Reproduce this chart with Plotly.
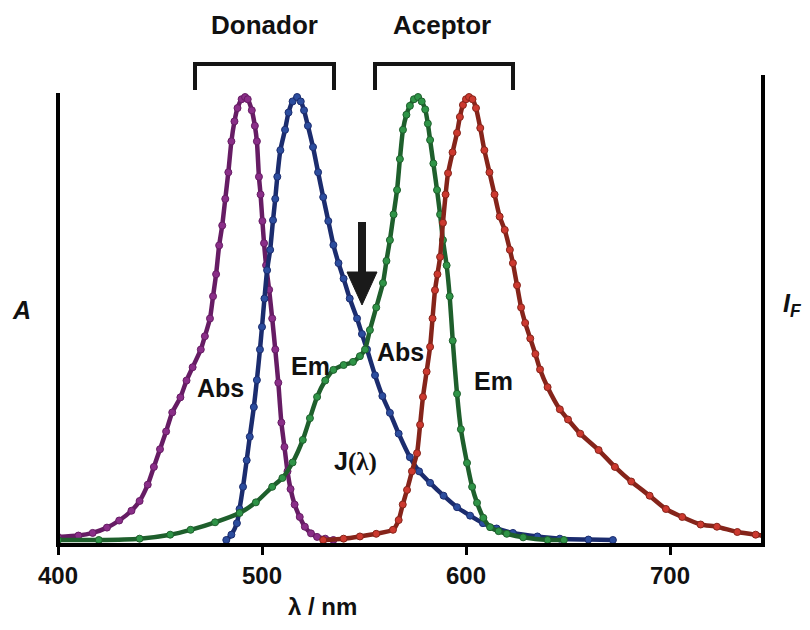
import plotly.graph_objects as go

# ---------------- data ----------------
donor_abs_wl = [400, 410, 417, 424, 430, 436, 440, 444, 447, 450, 453, 456, 460, 463, 466, 470,
                472, 474.5, 476, 477.5, 479, 480.5, 482, 483.5, 485, 486.5, 488, 490, 491.7,
                493, 495, 496.5, 497.5, 498.5, 499.3, 500.2, 501, 502, 503.5, 505, 506.5, 508,
                509.5, 511, 512.5, 514, 516, 518.5, 521, 524, 527, 531, 535]
donor_abs_y = [0.007, 0.010, 0.016, 0.028, 0.044, 0.066, 0.088, 0.125, 0.165, 0.205, 0.245, 0.288,
               0.322, 0.360, 0.390, 0.430, 0.460, 0.500, 0.550, 0.600, 0.665, 0.710, 0.770, 0.830,
               0.900, 0.945, 0.975, 0.995, 1.0, 0.995, 0.970, 0.935, 0.900, 0.820, 0.780, 0.720,
               0.670, 0.620, 0.565, 0.500, 0.430, 0.355, 0.265, 0.210, 0.155, 0.115, 0.080, 0.052,
               0.030, 0.015, 0.007, 0.003, 0.0]

donor_em_wl = [482.5, 485, 487.7, 489, 490.7, 492.5, 494, 496, 497.5, 499, 500, 501.2, 502.5, 504,
               505.4, 506.5, 507.5, 509, 511.3, 513, 515, 517.2, 519, 520.6, 522.5, 525, 527.5,
               530, 532.5, 535, 537.5, 540, 543, 546.6, 549, 551.5, 555.4, 559, 562.7, 567, 572.5,
               577, 582.4, 589, 595.6, 602, 608.3, 615, 623, 635, 646, 660, 672]
donor_em_y = [0.0, 0.012, 0.038, 0.070, 0.120, 0.180, 0.233, 0.300, 0.361, 0.430, 0.481, 0.545,
              0.609, 0.655, 0.722, 0.770, 0.820, 0.880, 0.926, 0.965, 0.990, 1.0, 0.990, 0.970,
              0.935, 0.887, 0.830, 0.774, 0.720, 0.666, 0.625, 0.590, 0.545, 0.500, 0.465, 0.430,
              0.372, 0.325, 0.287, 0.240, 0.187, 0.155, 0.129, 0.100, 0.074, 0.055, 0.038, 0.026,
              0.016, 0.008, 0.003, 0.001, 0.0]

acc_abs_wl = [400, 420, 440, 455, 465, 477, 489, 497, 505, 510, 515, 520, 523.5, 527, 531, 535,
              540, 544.6, 548, 550.5, 552.9, 556, 559.3, 561, 562.7, 564.5, 566.2, 567.6, 569.1,
              570.8, 572.5, 574.5, 576.5, 578.3, 580, 581.3, 582.4, 584, 585.8, 587.3, 588.7,
              590.5, 592, 593.5, 595.6, 597.5, 600.5, 603, 605.4, 608.5, 611.8, 616, 620, 628,
              640, 648]
acc_abs_y = [0.0, 0.0, 0.003, 0.012, 0.023, 0.040, 0.061, 0.085, 0.120, 0.140, 0.175, 0.226,
             0.275, 0.323, 0.360, 0.384, 0.395, 0.402, 0.415, 0.430, 0.474, 0.525, 0.580, 0.630,
             0.677, 0.735, 0.790, 0.860, 0.926, 0.960, 0.980, 0.995, 1.0, 0.990, 0.972, 0.940,
             0.903, 0.850, 0.790, 0.735, 0.677, 0.620, 0.550, 0.450, 0.330, 0.250, 0.174, 0.120,
             0.084, 0.050, 0.029, 0.020, 0.014, 0.006, 0.0, 0.0]

acc_em_wl = [530, 540, 548, 556, 564.2, 567, 569, 571.1, 573.5, 576, 577.5, 578.9, 580.7, 582.4,
             583.6, 584.8, 586, 587.3, 588.7, 590, 591.2, 593.4, 595.6, 597, 598.5, 600, 601.5,
             603.2, 604.9, 607, 609, 611.5, 614, 616.5, 619, 621.5, 623, 625, 627, 629, 631.5,
             634, 636.3, 640, 646, 650, 656, 665, 673, 681, 690, 698, 706, 715, 723, 733, 742, 746]
acc_em_y = [0.0, 0.003, 0.008, 0.014, 0.023, 0.045, 0.080, 0.113, 0.155, 0.196, 0.260, 0.323,
            0.380, 0.436, 0.500, 0.564, 0.600, 0.639, 0.716, 0.780, 0.828, 0.875, 0.919, 0.955,
            0.982, 0.995, 1.0, 0.995, 0.975, 0.930, 0.880, 0.830, 0.780, 0.730, 0.700, 0.655,
            0.625, 0.575, 0.525, 0.490, 0.455, 0.420, 0.385, 0.345, 0.295, 0.272, 0.240, 0.203,
            0.165, 0.132, 0.100, 0.070, 0.052, 0.035, 0.030, 0.018, 0.012, 0.010]

tick_vals = [400, 500, 600, 700]
tick_text = ["400", "500", "600", "700"]

series = [
    (donor_abs_wl, donor_abs_y, "#8a2e88", "#661c64"),
    (donor_em_wl, donor_em_y, "#2c4d9e", "#1b2c6e"),
    (acc_abs_wl, acc_abs_y, "#2f9447", "#1e5f2c"),
    (acc_em_wl, acc_em_y, "#cc392f", "#85241a"),
]

FONT = "Arial, Liberation Sans, sans-serif"

fig = go.Figure()
for wl, yv, mcol, lcol in series:
    fig.add_trace(go.Scatter(
        x=wl, y=yv, mode="lines+markers",
        line=dict(color=lcol, width=4.5, shape="spline", smoothing=0.6),
        marker=dict(size=7, color=mcol, line=dict(color=lcol, width=1)),
        showlegend=False, hoverinfo="skip"))

W, H = 810, 630
ML, MR, MT, MB = 58, 47, 40, 85
PW, PH = W - ML - MR, H - MT - MB


def px(x):
    return (x - ML) / PW


def py(y):
    return (H - MB - y) / PH


shapes = []
# axis frame
shapes.append(dict(type="line", xref="paper", yref="paper", x0=px(56), x1=px(765),
                   y0=py(545), y1=py(545), line=dict(color="black", width=4)))
shapes.append(dict(type="line", xref="paper", yref="paper", x0=px(58), x1=px(58),
                   y0=py(547), y1=py(93), line=dict(color="black", width=4)))
shapes.append(dict(type="line", xref="paper", yref="paper", x0=px(763), x1=px(763),
                   y0=py(547), y1=py(75), line=dict(color="black", width=4)))
# brackets
for x0, x1 in [(195, 334), (375, 513)]:
    shapes.append(dict(type="path", xref="paper", yref="paper",
                       path=f"M {px(x0)} {py(90)} L {px(x0)} {py(64)} L {px(x1)} {py(64)} L {px(x1)} {py(90)}",
                       line=dict(color="#151515", width=4)))
# arrow
shapes.append(dict(type="line", xref="paper", yref="paper", x0=px(362), x1=px(362),
                   y0=py(222), y1=py(276), line=dict(color="#1a1a1a", width=8)))
shapes.append(dict(type="path", xref="paper", yref="paper",
                   path=f"M {px(347)} {py(272)} L {px(377)} {py(272)} L {px(362)} {py(305)} Z",
                   fillcolor="#1a1a1a", line=dict(color="#1a1a1a", width=1)))

annots = []


def txt(t, x, y, size=22, **kw):
    annots.append(dict(text=t, x=px(x), y=py(y), xref="paper", yref="paper", showarrow=False,
                       xanchor="center", yanchor="middle",
                       font=dict(family=FONT, size=size, color="#111111", weight="bold"), **kw))


txt("Donador", 264, 25, size=26)
txt("Aceptor", 442, 25, size=26)
txt("<i>A</i>", 21, 310, size=25)
txt("<i>I</i><sub><i>F</i></sub>", 792, 305, size=25)
txt("Abs", 220, 388, size=25)
txt("Em", 310, 366, size=25)
txt("Abs", 400, 352, size=25)
txt("Em", 493, 381, size=25)
txt("J<span style='font-family:Liberation Serif, Times New Roman, serif'>(λ)</span>", 355, 461, size=25)
txt("λ / nm", 322, 606, size=24)

fig.update_layout(
    width=W, height=H,
    margin=dict(l=ML, r=MR, t=MT, b=MB),
    paper_bgcolor="white", plot_bgcolor="white",
    shapes=shapes, annotations=annots,
    xaxis=dict(range=[400, 400 + PW / 2.04], showgrid=False, zeroline=False, showline=False,
               tickmode="array", tickvals=tick_vals, ticktext=tick_text,
               ticks="outside", ticklen=9, tickwidth=3, tickcolor="black",
               tickfont=dict(family=FONT, size=24, color="#111111", weight="bold")),
    yaxis=dict(range=[-5 / 443, -5 / 443 + PH / 443], showgrid=False, zeroline=False,
               showline=False, showticklabels=False, ticks=""),
)

fig.write_html("out.html")
